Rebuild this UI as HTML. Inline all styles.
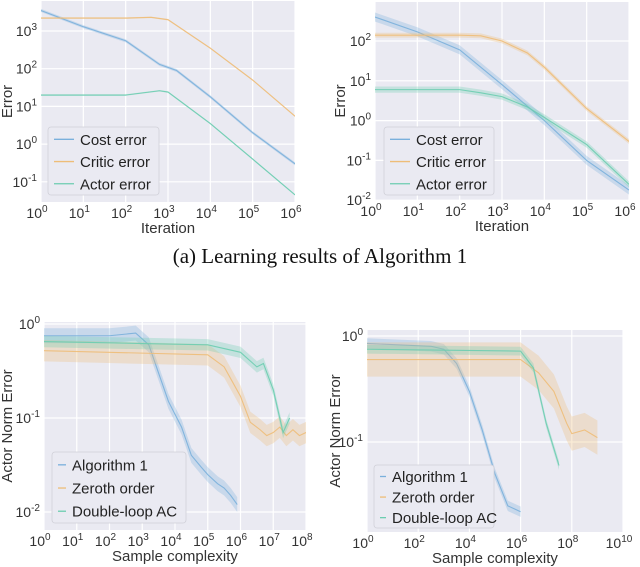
<!DOCTYPE html>
<html><head><meta charset="utf-8"><style>
body{margin:0;background:#fff;}
svg{display:block;font-family:"Liberation Sans","DejaVu Sans",sans-serif;}
</style></head><body>
<svg id="fig" width="640" height="567" viewBox="0 0 640 567">
<text x="320" y="263" text-anchor="middle" font-family="Liberation Serif,serif" font-size="21" fill="#111">(a)  Learning results of Algorithm 1</text>
</svg>
<script>
// ---- data: top-left ----
const tlX=[0,1,2,2.8,3.2,4,5,6];
const tlCost=[3500,1300,550,130,90,18,2,0.3];
const tlCriticX=[0,2,2.6,3,4,5,6];
const tlCritic=[2200,2200,2300,2000,350,50,5.5];
const tlActorX=[0,2,2.8,3,4,5,6];
const tlActor=[20,20,26,24,3.5,0.4,0.045];
// ---- data: top-right ----
const trX=[0,1,2,3,4,5,6];
const trCost=[400,170,60,8,1.0,0.1,0.018];
const trCriticX=[0,2,2.5,3,3.6,4,5,6];
const trCritic=[140,140,135,100,50,22,2,0.3];
const trActorX=[0,2,2.5,3,3.6,4,5,6];
const trActor=[6,6,5,4,2.2,1.2,0.25,0.025];
// ---- data: bottom-left ----
const blAlgX=[0,2,2.8,3.2,3.5,3.8,4.2,4.5,4.8,5,5.3,5.5,5.7,5.9];
const blAlg=[0.75,0.75,0.8,0.6,0.3,0.15,0.08,0.04,0.03,0.025,0.02,0.018,0.015,0.012];
const blZeroX=[0,3,5,5.5,6,6.3,6.6,6.8,7,7.2,7.4,7.6,7.8,8];
const blZero=[0.52,0.49,0.47,0.35,0.17,0.09,0.075,0.065,0.07,0.08,0.065,0.075,0.065,0.07];
const blDoubleX=[0,3,5,6,6.5,6.7,7,7.3,7.5];
const blDouble=[0.65,0.62,0.6,0.5,0.35,0.38,0.2,0.07,0.1];
// ---- data: bottom-right ----
const brAlgX=[0,2.5,3,3.5,4,4.5,5,5.5,6];
const brAlg=[0.85,0.8,0.75,0.55,0.3,0.13,0.05,0.025,0.022];
const brZeroX=[0,6,6.7,7.3,7.8,8,8.5,9];
const brZero=[0.6,0.6,0.45,0.3,0.15,0.12,0.13,0.11];
const brDoubleX=[0,6,6.5,7,7.5];
const brDouble=[0.75,0.72,0.5,0.15,0.06];

const NS="http://www.w3.org/2000/svg";
const svg=document.getElementById('fig');
function mk(tag,attrs,parent){const e=document.createElementNS(NS,tag);for(const k in attrs)e.setAttribute(k,attrs[k]);(parent||svg).appendChild(e);return e;}
const BLUE="#7ab0dc",ORANGE="#eebd78",GREEN="#6ccdb0";

function plot(cfg){
  const g=mk('g',{});
  
  
  const sx=v=>cfg.x0+(v-cfg.xmin)/(cfg.xmax-cfg.xmin)*(cfg.x1-cfg.x0);
  const sy=v=>cfg.yRef+(cfg.yRefExp-Math.log10(v))*cfg.dec;
  const bg=mk('rect',{x:cfg.x0,y:cfg.top,width:cfg.x1-cfg.x0,height:cfg.bot-cfg.top,fill:"#eaeaf2"},g);
  
  for(let e=cfg.xmin;e<=cfg.xmax;e+=cfg.xstep){
    const x=sx(e);
    mk('line',{x1:x,x2:x,y1:cfg.top,y2:cfg.bot,stroke:"#fff","stroke-width":1.2},g);
    const t=mk('text',{x:x-4,y:cfg.bot+16,"text-anchor":"middle","font-size":14,fill:"#333"},g);
    
    t.innerHTML='10<tspan dy="-6" font-size="10">'+e+'</tspan>';
  }
  for(const e of cfg.yexps){
    const y=sy(Math.pow(10,e));
    mk('line',{x1:cfg.x0,x2:cfg.x1,y1:y,y2:y,stroke:"#fff","stroke-width":1.2},g);
    const t=mk('text',{x:cfg.x0-4,y:y+5,"text-anchor":"end","font-size":14,fill:"#333"},g);
    
    t.innerHTML='10<tspan dy="-6" font-size="10">'+e+'</tspan>';
  }
  const clipId='c'+cfg.name;
  const cp=mk('clipPath',{id:clipId},g);mk('rect',{x:cfg.x0,y:cfg.top,width:cfg.x1-cfg.x0,height:cfg.bot-cfg.top},cp);
  const cg=mk('g',{"clip-path":"url(#"+clipId+")"},g);
  cfg.series.forEach(s=>{
    const up=s.x.map((e,i)=>sx(e)+','+sy(s.y[i]*s.band)).join(' ');
    const dn=s.x.map((e,i)=>sx(e)+','+sy(s.y[i]/s.band)).reverse().join(' ');
    const b=mk('polygon',{points:up+' '+dn,fill:s.c,"fill-opacity":0.3},cg);
    
    const l=mk('polyline',{points:s.x.map((e,i)=>sx(e)+','+sy(s.y[i])).join(' '),fill:"none",stroke:s.c,"stroke-width":1.1,"stroke-opacity":0.9},cg);
    
  });
  const xl=mk('text',{x:(cfg.x0+cfg.x1)/2,y:cfg.bot+31,"text-anchor":"middle","font-size":15,fill:"#333"},g);
  xl.textContent=cfg.xlabel;
  const yl=mk('text',{x:0,y:0,"text-anchor":"middle","font-size":15,fill:"#333",transform:`translate(${cfg.ylx},${(cfg.top+cfg.bot)/2}) rotate(-90)`},g);
  yl.textContent=cfg.ylabel;
  const L=cfg.leg;
  const lg=mk('g',{},g);
  mk('rect',{x:L.x,y:L.y,width:L.w,height:L.h,rx:3,fill:"#eaeaf2",stroke:"#d0d0d8","stroke-width":0.8},lg);
  cfg.series.forEach((s,i)=>{
    const y=L.y+L.h/6+i*L.h/3*0.98+1;
    mk('line',{x1:L.x+6,x2:L.x+6+L.lw,y1:y,y2:y,stroke:s.c,"stroke-width":1.3},lg);
    const t=mk('text',{x:L.x+12+L.lw,y:y+5.5,"font-size":15,fill:"#222"},lg);
    t.textContent=s.label;
  });
}
plot({name:'plot-top-left',x0:41,x1:295,top:1,bot:202,xmin:0,xmax:6,xstep:1,yRef:31,yRefExp:3,dec:37.7,yexps:[3,2,1,0,-1],
  xlabel:'Iteration',ylabel:'Error',ylx:12,leg:{x:48,y:127,w:111,h:68,lw:20},
  series:[{id:'cost',x:tlX,y:tlCost,c:BLUE,band:1.1,label:'Cost error'},{id:'critic',x:tlCriticX,y:tlCritic,c:ORANGE,band:1.05,label:'Critic error'},{id:'actor',x:tlActorX,y:tlActor,c:GREEN,band:1.05,label:'Actor error'}]});
plot({name:'plot-top-right',x0:375,x1:629,top:2,bot:200,xmin:0,xmax:6,xstep:1,yRef:41,yRefExp:2,dec:39.8,yexps:[2,1,0,-1,-2],
  xlabel:'Iteration',ylabel:'Error',ylx:345,leg:{x:384,y:127,w:110,h:68,lw:20},
  series:[{id:'cost',x:trX,y:trCost,c:BLUE,band:1.3,label:'Cost error'},{id:'critic',x:trCriticX,y:trCritic,c:ORANGE,band:1.15,label:'Critic error'},{id:'actor',x:trActorX,y:trActor,c:GREEN,band:1.2,label:'Actor error'}]});
plot({name:'plot-bottom-left',x0:44,x1:306,top:322,bot:530,xmin:0,xmax:8,xstep:1,yRef:324,yRefExp:0,dec:94,yexps:[0,-1,-2],
  xlabel:'Sample complexity',ylabel:'Actor Norm Error',ylx:12,leg:{x:52,y:452,w:134,h:71,lw:8},
  series:[{id:'algorithm1',x:blAlgX,y:blAlg,c:BLUE,band:1.2,label:'Algorithm 1'},{id:'zeroth',x:blZeroX,y:blZero,c:ORANGE,band:1.3,label:'Zeroth order'},{id:'double-loop',x:blDoubleX,y:blDouble,c:GREEN,band:1.15,label:'Double-loop AC'}]});
plot({name:'plot-bottom-right',x0:367,x1:623,top:330,bot:532,xmin:0,xmax:10,xstep:2,yRef:336,yRefExp:0,dec:106,yexps:[0,-1],
  xlabel:'Sample complexity',ylabel:'Actor Norm Error',ylx:340,leg:{x:374,y:465,w:120,h:63,lw:6},
  series:[{id:'algorithm1',x:brAlgX,y:brAlg,c:BLUE,band:1.12,label:'Algorithm 1'},{id:'zeroth',x:brZeroX,y:brZero,c:ORANGE,band:1.45,label:'Zeroth order'},{id:'double-loop',x:brDoubleX,y:brDouble,c:GREEN,band:1.1,label:'Double-loop AC'}]});
</script>
</body></html>
